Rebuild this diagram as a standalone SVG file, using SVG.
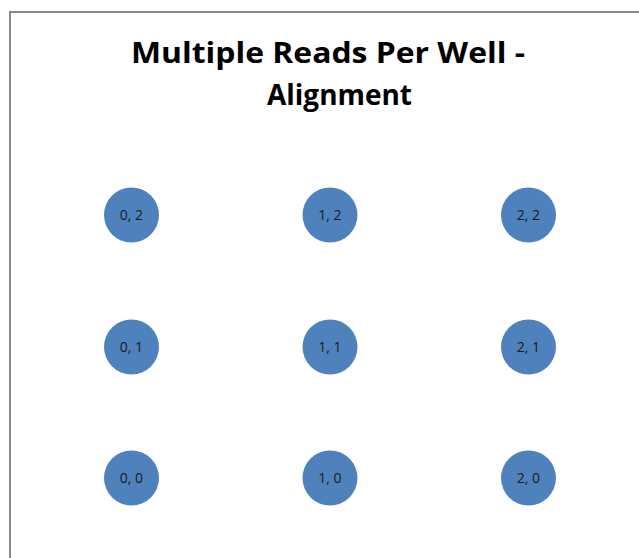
<svg xmlns="http://www.w3.org/2000/svg" width="639" height="558" viewBox="0 0 639 558">
<style>
.frame{fill:#fff;stroke:#888;stroke-width:2}
.title{font-family:"Open Sans","Liberation Sans",sans-serif;font-weight:bold;font-size:29px;fill:#000;text-anchor:middle}
.well circle{fill:#4f81bd}
.well text{font-family:"Open Sans","Liberation Sans",sans-serif;font-size:14px;fill:#1a1a1a;text-anchor:middle}
</style>
<rect class="frame" x="10" y="12" width="700" height="600"/>
<text class="title" x="328" y="63" textLength="394" lengthAdjust="spacingAndGlyphs">Multiple Reads Per Well -</text>
<text class="title" x="339.5" y="105" textLength="145" lengthAdjust="spacingAndGlyphs">Alignment</text>
<g id="connectors"/>
<g id="w02" class="well"><circle cx="131.5" cy="215" r="27.5"/><text x="131.5" y="220">0, 2</text></g>
<g id="w12" class="well"><circle cx="330" cy="215" r="27.5"/><text x="330" y="220">1, 2</text></g>
<g id="w22" class="well"><circle cx="528.5" cy="215" r="27.5"/><text x="528.5" y="220">2, 2</text></g>
<g id="w01" class="well"><circle cx="131.5" cy="347" r="27.5"/><text x="131.5" y="352">0, 1</text></g>
<g id="w11" class="well"><circle cx="330" cy="347" r="27.5"/><text x="330" y="352">1, 1</text></g>
<g id="w21" class="well"><circle cx="528.5" cy="347" r="27.5"/><text x="528.5" y="352">2, 1</text></g>
<g id="w00" class="well"><circle cx="131.5" cy="478" r="27.5"/><text x="131.5" y="483">0, 0</text></g>
<g id="w10" class="well"><circle cx="330" cy="478" r="27.5"/><text x="330" y="483">1, 0</text></g>
<g id="w20" class="well"><circle cx="528.5" cy="478" r="27.5"/><text x="528.5" y="483">2, 0</text></g>
</svg>
